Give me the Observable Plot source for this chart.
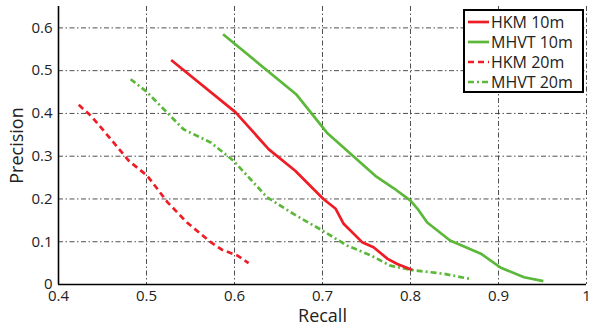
<!DOCTYPE html>
<html>
<head>
<meta charset="utf-8">
<script src="https://cdn.jsdelivr.net/npm/d3@7"></script>
<script src="https://cdn.jsdelivr.net/npm/@observablehq/plot@0.6"></script>
<style>
  html, body { margin: 0; padding: 0; background: #fff; }
  #wrap { position: relative; width: 589px; height: 327px; font-family: "Open Sans", sans-serif; }
  #legend { position: absolute; left: 463px; top: 9px; width: 117px; height: 80px; border: 2px solid #000; background: #fff; font-size: 16px; color: #222; }
  #legend .row { position: absolute; left: 0; height: 20px; display: flex; align-items: center; white-space: nowrap; }
  #legend svg { margin-left: 3px; margin-right: 2px; }
</style>
</head>
<body>
<div id="wrap"></div>
<script>
const seriesNames = ["HKM 10m", "MHVT 10m", "HKM 20m", "MHVT 20m"];
const seriesColors = ["#ee1c24", "#5cb83a", "#ee1c24", "#5cb83a"];
const seriesDash = [null, null, "6,4", "6,3,2,3"];

const hkm10Recall = [0.528, 0.601, 0.639, 0.669, 0.701, 0.715, 0.724, 0.745, 0.758, 0.774, 0.785, 0.802];
const hkm10Precision = [0.525, 0.403, 0.316, 0.266, 0.200, 0.177, 0.142, 0.099, 0.087, 0.060, 0.048, 0.034];

const mhvt10Recall = [0.587, 0.670, 0.705, 0.760, 0.781, 0.800, 0.808, 0.819, 0.845, 0.880, 0.902, 0.929, 0.951];
const mhvt10Precision = [0.585, 0.445, 0.355, 0.254, 0.225, 0.196, 0.177, 0.145, 0.103, 0.072, 0.040, 0.017, 0.008];

const hkm20Recall = [0.423, 0.438, 0.461, 0.480, 0.501, 0.524, 0.546, 0.573, 0.586, 0.603, 0.616];
const hkm20Precision = [0.420, 0.392, 0.336, 0.289, 0.254, 0.192, 0.145, 0.099, 0.081, 0.068, 0.050];

const mhvt20Recall = [0.482, 0.500, 0.542, 0.573, 0.599, 0.637, 0.667, 0.700, 0.728, 0.755, 0.777, 0.804, 0.838, 0.868];
const mhvt20Precision = [0.480, 0.451, 0.363, 0.332, 0.289, 0.204, 0.165, 0.126, 0.091, 0.068, 0.044, 0.033, 0.025, 0.013];

const xTicks = [0.4, 0.5, 0.6, 0.7, 0.8, 0.9, 1.0];
const xTickLabels = ["0.4", "0.5", "0.6", "0.7", "0.8", "0.9", "1"];
const yTicks = [0, 0.1, 0.2, 0.3, 0.4, 0.5, 0.6];
const yTickLabels = ["0", "0.1", "0.2", "0.3", "0.4", "0.5", "0.6"];

const allRecall = [hkm10Recall, mhvt10Recall, hkm20Recall, mhvt20Recall];
const allPrecision = [hkm10Precision, mhvt10Precision, hkm20Precision, mhvt20Precision];
const series = allRecall.map((r, i) => r.map((x, j) => ({x, y: allPrecision[i][j]})));

const gridStyle = {stroke: "#333", strokeWidth: 1, strokeDasharray: "5,2.5,1.5,2.5", strokeOpacity: 0.85};

const marks = [
  Plot.ruleX(xTicks.slice(1), {...gridStyle}),
  Plot.ruleY(yTicks.slice(1), {...gridStyle}),
  Plot.ruleX([xTicks[0]], {stroke: "#000", strokeWidth: 1.6}),
  Plot.ruleY([yTicks[0]], {stroke: "#000", strokeWidth: 1.6})
];
[3, 2, 1, 0].forEach(i => {
  marks.push(Plot.line(series[i], {x: "x", y: "y", stroke: seriesColors[i], strokeWidth: 2.7,
    strokeDasharray: seriesDash[i] || undefined, strokeLinecap: "butt", strokeLinejoin: "round"}));
});

const chart = Plot.plot({
  width: 589,
  height: 327,
  marginLeft: 58,
  marginRight: 3,
  marginTop: 6,
  marginBottom: 43,
  style: {fontFamily: "Open Sans, sans-serif", fontSize: "15px", color: "#222", background: "#fff"},
  x: {domain: [0.4, 1.0], ticks: xTicks, tickFormat: d => xTickLabels[xTicks.indexOf(d)], tickSize: 0, tickPadding: 6,
      label: "Recall", labelAnchor: "center", labelArrow: "none", labelOffset: 37},
  y: {domain: [0, 0.65], ticks: yTicks, tickFormat: d => yTickLabels[yTicks.indexOf(d)], tickSize: 0, tickPadding: 6,
      label: "Precision", labelAnchor: "center", labelArrow: "none", labelOffset: 48},
  marks
});
document.getElementById("wrap").appendChild(chart);

// enlarge axis labels and strip any arrows
chart.querySelectorAll("g[aria-label='x-axis label'] text, g[aria-label='y-axis label'] text").forEach(t => {
  t.style.fontSize = "18px";
  t.textContent = t.textContent.replace(/\s*[→↑←↓]\s*/g, "").trim();
});

// legend
const legend = document.createElement("div");
legend.id = "legend";
seriesNames.forEach((name, i) => {
  const row = document.createElement("div");
  row.className = "row";
  row.style.top = (1 + i * 20) + "px";
  const ns = "http://www.w3.org/2000/svg";
  const s = document.createElementNS(ns, "svg");
  s.setAttribute("width", 21); s.setAttribute("height", 6);
  const l = document.createElementNS(ns, "line");
  l.setAttribute("x1", 0); l.setAttribute("x2", 21); l.setAttribute("y1", 3); l.setAttribute("y2", 3);
  l.setAttribute("stroke", seriesColors[i]); l.setAttribute("stroke-width", 2.7);
  if (seriesDash[i]) l.setAttribute("stroke-dasharray", seriesDash[i]);
  s.appendChild(l);
  row.appendChild(s);
  const t = document.createElement("span");
  t.textContent = name;
  row.appendChild(t);
  legend.appendChild(row);
});
document.getElementById("wrap").appendChild(legend);
</script>
</body>
</html>
